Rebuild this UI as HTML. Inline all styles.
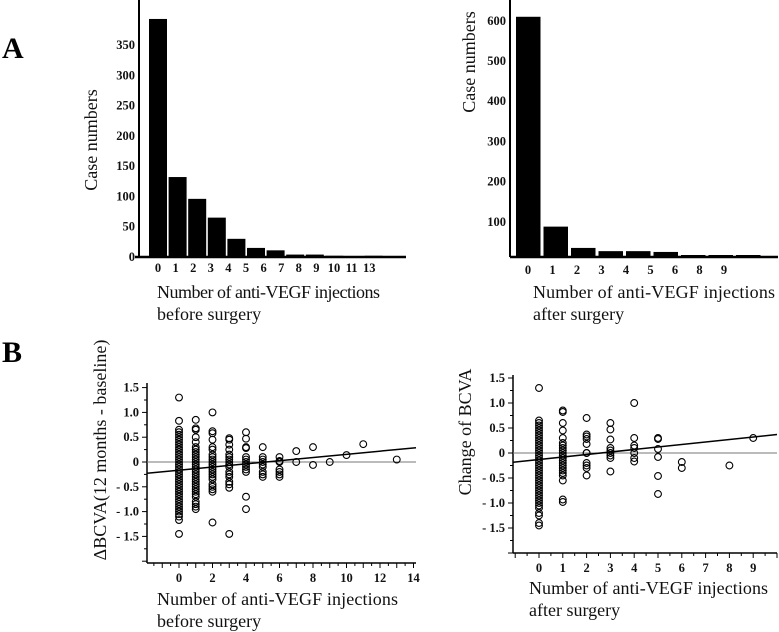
<!DOCTYPE html>
<html><head><meta charset="utf-8"><style>
body{margin:0;background:#fff;}
svg{display:block;font-family:"Liberation Serif",serif;}
.t{font-size:12.5px;font-weight:bold;fill:#111;}
.ti{font-size:18px;fill:#111;}
</style></head><body>
<svg id="fig" width="779" height="632" viewBox="0 0 779 632">
<text x="2" y="58" font-size="30" font-weight="bold">A</text>
<text x="2" y="362" font-size="30" font-weight="bold">B</text>
<g id="g1"></g>
<g id="g2"></g>
<g id="g3"></g>
<g id="g4"></g>
<text class="ti" x="97" y="140" transform="rotate(-90 97 140)" text-anchor="middle">Case numbers</text>
<text class="ti" x="475" y="62" transform="rotate(-90 475 62)" text-anchor="middle">Case numbers</text>
<text class="ti" x="106" y="450" transform="rotate(-90 106 450)" text-anchor="middle">ΔBCVA(12 months - baseline)</text>
<text class="ti" x="471" y="432" transform="rotate(-90 471 432)" text-anchor="middle">Change of BCVA</text>
<text class="ti" x="157" y="298" textLength="223">Number of anti-VEGF injections</text>
<text class="ti" x="157" y="320">before surgery</text>
<text class="ti" x="533" y="298" textLength="242">Number of anti-VEGF injections</text>
<text class="ti" x="533" y="320">after surgery</text>
<text class="ti" x="157" y="605" textLength="241">Number of anti-VEGF injections</text>
<text class="ti" x="157" y="627">before surgery</text>
<text class="ti" x="529" y="594" textLength="239">Number of anti-VEGF injections</text>
<text class="ti" x="529" y="616">after surgery</text>
</svg>
<script>
const NS="http://www.w3.org/2000/svg";
// Histogram before surgery
const h1Values=[393,132,96,65,30,15,11,4,4,2,1,2,1];
const h1Labels=["0","1","2","3","4","5","6","7","8","9","10","11","13"];
const h1Ticks=[0,50,100,150,200,250,300,350];
// Histogram after surgery
const h2Values=[610,88,35,27,27,25,14,14,14];
const h2Labels=["0","1","2","3","4","5","6","8","9"];
const h2Ticks=[100,200,300,400,500,600];
// Scatter before surgery
const s1X=[0,1,2,3,4,5,6,7,8,9,10,11,13];
const s1Y=[
[1.3,0.83,0.65,0.6,0.55,0.5,0.45,0.4,0.35,0.3,0.25,0.2,0.15,0.1,0.05,0,-0.05,-0.1,-0.15,-0.2,-0.25,-0.3,-0.35,-0.4,-0.45,-0.5,-0.55,-0.6,-0.65,-0.7,-0.75,-0.8,-0.85,-0.9,-0.95,-1.0,-1.05,-1.1,-1.17,-1.45],
[0.85,0.68,0.65,0.5,0.4,0.3,0.25,0.2,0.15,0.1,0.05,0,-0.05,-0.1,-0.15,-0.2,-0.25,-0.3,-0.35,-0.4,-0.45,-0.5,-0.55,-0.6,-0.65,-0.7,-0.8,-0.85,-0.9,-0.95],
[1.0,0.62,0.58,0.45,0.3,0.25,0.15,0.1,0.05,0,-0.05,-0.1,-0.15,-0.2,-0.25,-0.3,-0.35,-0.45,-0.5,-0.55,-0.6,-1.22],
[0.48,0.45,0.35,0.25,0.15,0.1,0.05,0,-0.05,-0.1,-0.2,-0.25,-0.3,-0.4,-0.45,-0.52,-1.45],
[0.6,0.47,0.3,0.28,0.1,0.05,0,-0.05,-0.1,-0.15,-0.2,-0.7,-0.95],
[0.3,0.1,0.05,0,-0.05,-0.1,-0.2,-0.25,-0.3],
[0.1,0.02,0,-0.15,-0.2,-0.25,-0.3],
[0.22,0],[0.3,-0.06],[0],[0.14],[0.36],[0.05]];
const s1Fit=[-0.165,0.032]; // intercept, slope
// Scatter after surgery
const s2X=[0,1,2,3,4,5,6,8,9];
const s2Y=[
[1.3,0.65,0.6,0.55,0.5,0.45,0.4,0.35,0.3,0.25,0.2,0.15,0.1,0.05,0,-0.05,-0.1,-0.15,-0.2,-0.25,-0.3,-0.35,-0.4,-0.45,-0.5,-0.55,-0.6,-0.65,-0.7,-0.75,-0.8,-0.85,-0.9,-0.95,-1.0,-1.05,-1.1,-1.2,-1.25,-1.4,-1.45],
[0.85,0.82,0.6,0.45,0.3,0.2,0.15,0.1,0.05,0,-0.05,-0.1,-0.15,-0.2,-0.25,-0.3,-0.35,-0.4,-0.45,-0.55,-0.93,-0.98],
[0.7,0.37,0.33,0.28,0.18,0,0,-0.2,-0.25,-0.3,-0.45],
[0.6,0.47,0.27,0.1,0.05,0,-0.05,-0.1,-0.37],
[1.0,0.3,0.15,0.1,0,-0.1,-0.17],
[0.3,0.28,0.08,-0.08,-0.46,-0.82],
[-0.18,-0.3],[-0.25],[0.3]];
const s2Fit=[-0.13,0.05];
const sTicks=[1.5,1.0,0.5,0,-0.5,-1.0,-1.5];
const s1XTicks=[0,2,4,6,8,10,12,14];
const s2XTicks=[0,1,2,3,4,5,6,7,8,9];

function el(p,tag,a){const e=document.createElementNS(NS,tag);for(const k in a)e.setAttribute(k,a[k]);p.appendChild(e);return e;}
function fmt(v){if(v===0)return "0";const s=Math.abs(v).toFixed(1);return v<0?"- "+s:s;}

// histogram 1
(function(){
 const g=document.getElementById('g1');
 const x0=139,base=257,y=v=>base-v*(212/350),bx0=149,step=19.6,bw=18;
 el(g,'line',{x1:x0,y1:0,x2:x0,y2:base,stroke:'#000','stroke-width':2});
 el(g,'line',{x1:x0-4,y1:base,x2:406,y2:base,stroke:'#000','stroke-width':2.5});
 h1Ticks.forEach(t=>{const e=el(g,'text',{x:x0-4,y:y(t)+4,class:'t','text-anchor':'end'});e.textContent=t;
  
  });
 h1Values.forEach((v,i)=>{const r=el(g,'rect',{x:bx0+i*step,y:y(v),width:bw,height:base-y(v),fill:'#000'});
  
  });
 h1Labels.forEach((l,i)=>{const e=el(g,'text',{x:158+i*17.6,y:272,class:'t','text-anchor':'middle'});e.textContent=l;
  
  });
})();
// histogram 2
(function(){
 const g=document.getElementById('g2');
 const x0=510,base=257,y=v=>262-v*0.402,bx0=516,step=27.5,bw=24.5;
 el(g,'line',{x1:x0,y1:0,x2:x0,y2:base,stroke:'#000','stroke-width':2});
 el(g,'line',{x1:x0,y1:base,x2:778,y2:base,stroke:'#000','stroke-width':2.5});
 h2Ticks.forEach(t=>{const e=el(g,'text',{x:x0-4,y:y(t)+4,class:'t','text-anchor':'end'});e.textContent=t;
  
  });
 h2Values.forEach((v,i)=>{const top=Math.min(y(v),base-2);const r=el(g,'rect',{x:bx0+i*step,y:top,width:bw,height:base-top,fill:'#000'});
  
  });
 h2Labels.forEach((l,i)=>{const e=el(g,'text',{x:528+i*24.5,y:274,class:'t','text-anchor':'middle'});e.textContent=l;
  
  });
})();
// scatter
function scatter(id,X,Y,fit,xt,ax,xs,ys,zy,xr,top,bot){
 const g=document.getElementById(id);
 const sx=v=>xs.o+v*xs.k, sy=v=>zy-v*ys;
 el(g,'line',{x1:ax,y1:top,x2:ax,y2:bot,stroke:'#000','stroke-width':1.5});
 el(g,'line',{x1:ax,y1:bot,x2:xr,y2:bot,stroke:'#000','stroke-width':1.5});
 for(let v=-2;v<=1.55;v+=0.25){el(g,'line',{x1:ax-(Math.abs(v*2-Math.round(v*2))<0.01?5:3),y1:sy(v),x2:ax,y2:sy(v),stroke:'#000'});}
 sTicks.forEach(t=>{const e=el(g,'text',{x:ax-8,y:sy(t)+4,class:'t','text-anchor':'end'});e.textContent=fmt(t);
  
  });
 for(let v=-2;sx(v)<=xr;v+=0.5){if(sx(v)>ax)el(g,'line',{x1:sx(v),y1:bot,x2:sx(v),y2:bot+(Math.abs(v-Math.round(v))<0.01?5:3),stroke:'#000'});}
 xt.forEach(t=>{const e=el(g,'text',{x:sx(t),y:bot+19,class:'t','text-anchor':'middle'});e.textContent=t;
  
  });
 el(g,'line',{x1:ax,y1:sy(0),x2:xr,y2:sy(0),stroke:'#777','stroke-width':1});
 X.forEach((x,i)=>Y[i].forEach(v=>{const c=el(g,'circle',{cx:sx(x),cy:sy(v),r:3.4,fill:'none',stroke:'#000','stroke-width':1.1});
  
  }));
 const xa=(ax-xs.o)/xs.k, xb=(xr-xs.o)/xs.k;
 const ln=el(g,'line',{x1:ax,y1:sy(fit[0]+fit[1]*xa),x2:xr,y2:sy(fit[0]+fit[1]*xb),stroke:'#000','stroke-width':1.5});
 
 
}
scatter('g3',s1X,s1Y,s1Fit,s1XTicks,147,{o:179,k:16.75},49.6,462,416,383,563);
scatter('g4',s2X,s2Y,s2Fit,s2XTicks,513,{o:539,k:23.8},50,453,777,375,553);
</script>
</body></html>
